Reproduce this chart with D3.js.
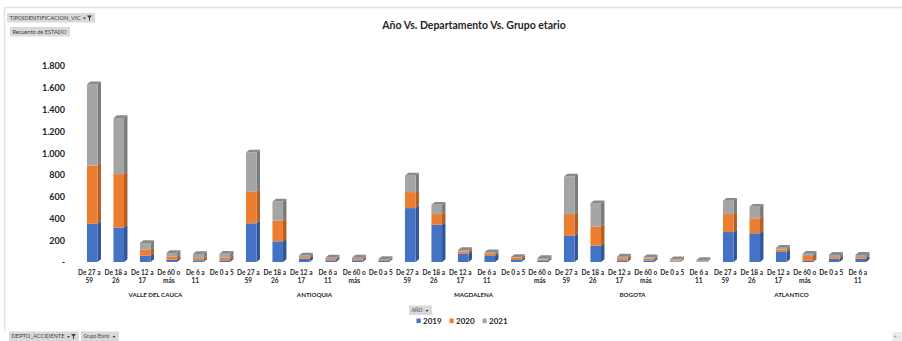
<!DOCTYPE html>
<html>
<head>
<meta charset="utf-8">
<script src="https://cdn.jsdelivr.net/npm/d3@7"></script>
<style>
  html, body { margin: 0; padding: 0; background: #fff; }
  svg { display: block; }
</style>
</head>
<body>
<div id="chart"></div>
<script>
// departments and age groups (order as shown in the pivot chart)
const departments = ["VALLE DEL CAUCA", "ANTIOQUIA", "MAGDALENA", "BOGOTA", "ATLANTICO"];
const ageGroups = [
  "De 27 a 59", "De 18 a 26", "De 12 a 17", "De 60 o más", "De 6 a 11", "De 0 a 5",
  "De 27 a 59", "De 18 a 26", "De 12 a 17", "De 6 a 11", "De 60 o más", "De 0 a 5",
  "De 27 a 59", "De 18 a 26", "De 12 a 17", "De 6 a 11", "De 0 a 5", "De 60 o más",
  "De 27 a 59", "De 18 a 26", "De 12 a 17", "De 60 o más", "De 0 a 5", "De 6 a 11",
  "De 27 a 59", "De 18 a 26", "De 12 a 17", "De 60 o más", "De 0 a 5", "De 6 a 11"
];
const years = ["2019", "2020", "2021"];
const values2019 = [351, 317, 58, 20, 15, 15, 355, 190, 30, 15, 15, 10, 495, 342, 75, 55, 18, 10, 240, 150, 10, 15, 5, 3, 275, 264, 92, 10, 30, 30];
const values2020 = [535, 490, 55, 31, 20, 25, 290, 190, 15, 12, 12, 8, 147, 98, 20, 18, 22, 10, 200, 175, 25, 15, 10, 5, 165, 137, 21, 45, 15, 15];
const values2021 = [745, 514, 61, 32, 38, 35, 360, 175, 15, 13, 13, 10, 153, 86, 15, 15, 6, 17, 345, 215, 14, 13, 10, 10, 122, 106, 18, 20, 20, 20];
const tickValues = [0, 200, 400, 600, 800, 1000, 1200, 1400, 1600, 1800];
const tickLabels = ["-", "200", "400", "600", "800", "1.000", "1.200", "1.400", "1.600", "1.800"];

const colors = {
  "2019": { front: "#4472C4", side: "#2F5597", top: "#3A63AC" },
  "2020": { front: "#ED7D31", side: "#B25D22", top: "#D06A26" },
  "2021": { front: "#A5A5A5", side: "#7A7A7A", top: "#8A8A8A" }
};

const W = 902, H = 341;
const font = "Lato, 'Open Sans', sans-serif";
const textCol = "#262626";

const svg = d3.select("#chart").append("svg")
  .attr("width", W).attr("height", H)
  .style("font-family", font);

// light frame of the chart area
svg.append("path")
  .attr("d", `M4.5,331 V7.5 H${W}`)
  .attr("fill", "none").attr("stroke", "#e4e4e4").attr("stroke-width", 1.5);

// table of rows for stacking
const rows = ageGroups.map((g, i) => ({
  i: i, group: g,
  "2019": values2019[i], "2020": values2020[i], "2021": values2021[i]
}));
const series = d3.stack().keys(years)(rows);

const x = d3.scaleBand()
  .domain(d3.range(ageGroups.length))
  .range([76, 871])
  .paddingInner(0.6)
  .paddingOuter(0.3);

const y = d3.scaleLinear().domain([0, 1800]).range([262, 66]);

const shift = 3, dx = 3.4, dy = 2.8;

// title
svg.append("text")
  .attr("x", 474).attr("y", 29)
  .attr("text-anchor", "middle")
  .attr("font-size", 10.5).attr("font-weight", "bold")
  .attr("fill", textCol)
  .text("Año Vs. Departamento Vs. Grupo etario");

// y axis
const yAxis = svg.append("g")
  .attr("transform", "translate(66,0)")
  .call(d3.axisLeft(y).tickValues(tickValues)
    .tickFormat((d, i) => tickLabels[i]).tickSize(0).tickPadding(1));
yAxis.select(".domain").remove();
yAxis.selectAll("text")
  .attr("font-family", font).attr("font-size", 9).attr("font-weight", "bold")
  .attr("fill", textCol);

// 3D stacked columns
const seg = svg.append("g").selectAll("g")
  .data(series).join("g");

seg.each(function(s, si) {
  const c = colors[s.key];
  const g = d3.select(this);
  s.forEach((d, i) => {
    const x0 = x(i) + shift, x1 = x0 + x.bandwidth();
    const yt = y(d[1]), yb = y(d[0]);
    if (yb - yt <= 0) return;
    g.append("path")
      .attr("d", `M${x1},${yb} L${x1 + dx},${yb - dy} L${x1 + dx},${yt - dy} L${x1},${yt} Z`)
      .attr("fill", c.side);
    g.append("rect")
      .attr("x", x0).attr("y", yt)
      .attr("width", x.bandwidth()).attr("height", yb - yt)
      .attr("fill", c.front);
    if (si === series.length - 1) {
      g.append("path")
        .attr("d", `M${x0},${yt} L${x0 + dx},${yt - dy} L${x1 + dx},${yt - dy} L${x1},${yt} Z`)
        .attr("fill", c.top);
    }
  });
});

// category labels (wrapped like Excel)
const catLabels = svg.append("g").selectAll("text")
  .data(ageGroups).join("text")
  .attr("x", (d, i) => x(i) + x.bandwidth() / 2)
  .attr("y", 274.5)
  .attr("text-anchor", "middle")
  .attr("font-size", 6.5).attr("font-weight", "bold")
  .attr("fill", textCol);
catLabels.each(function(d) {
  const t = d3.select(this);
  let lines = [d];
  if (d.length > 8) {
    const k = d.lastIndexOf(" ");
    lines = [d.slice(0, k), d.slice(k + 1)];
  }
  lines.forEach((l, j) => {
    t.append("tspan")
      .attr("x", t.attr("x"))
      .attr("dy", j === 0 ? 0 : 8.4)
      .text(l);
  });
});

// department labels
svg.append("g").selectAll("text")
  .data(departments).join("text")
  .attr("x", (d, k) => (x(k * 6) + x(k * 6 + 5) + x.bandwidth()) / 2)
  .attr("y", 296.5)
  .attr("text-anchor", "middle")
  .attr("font-size", 6.2).attr("font-weight", "bold")
  .attr("fill", textCol)
  .text(d => d);

// pivot field buttons
function fieldButton(bx, by, bw, label, withFilter) {
  const b = svg.append("g").attr("transform", `translate(${bx},${by})`);
  b.append("rect").attr("width", bw).attr("height", 9.5).attr("fill", "#d9d9d9");
  const tw = withFilter === null ? bw - 6 : (withFilter ? bw - 17 : bw - 12);
  b.append("text")
    .attr("x", 2.5).attr("y", 6.8)
    .attr("font-size", 5.6).attr("fill", "#404040")
    .attr("textLength", tw).attr("lengthAdjust", "spacingAndGlyphs")
    .text(label);
  if (withFilter === null) return;
  // small dropdown arrow
  const ax = withFilter ? bw - 12 : bw - 6.5;
  b.append("path")
    .attr("d", `M${ax},4.6 h3 l-1.5,1.8 Z`)
    .attr("fill", "#404040");
  if (withFilter) {
    b.append("path")
      .attr("d", `M${bw - 8},2.5 h5 l-2,2.5 v3 l-1,-0.8 v-2.2 Z`)
      .attr("fill", "#404040");
  }
}
fieldButton(7, 13, 88, "TIPOIDENTIFICACION_VIC", true);
fieldButton(10, 27, 60, "Recuento de ESTADO", null);
fieldButton(9, 331.5, 70, "DEPTO_ACCIDENTE", true);
fieldButton(81, 331.5, 38, "Grupo Etario", false);
fieldButton(409, 305.5, 23, "AÑO", false);

// +/- buttons bottom right
svg.append("rect").attr("x", 892).attr("y", 332).attr("width", 10).attr("height", 9).attr("fill", "#ececec");
svg.append("text").attr("x", 893.5).attr("y", 339).attr("font-size", 6).attr("fill", "#8a8a8a").text("+ -");

// legend
const legend = svg.append("g").selectAll("g")
  .data(years).join("g")
  .attr("transform", (d, i) => `translate(${416.5 + i * 33},318.5)`);
legend.append("rect")
  .attr("width", 4.2).attr("height", 4.6)
  .attr("fill", d => colors[d].front);
legend.append("text")
  .attr("x", 6.5).attr("y", 5.3)
  .attr("font-size", 8).attr("font-weight", "bold")
  .attr("fill", textCol)
  .text(d => d);
</script>
</body>
</html>
